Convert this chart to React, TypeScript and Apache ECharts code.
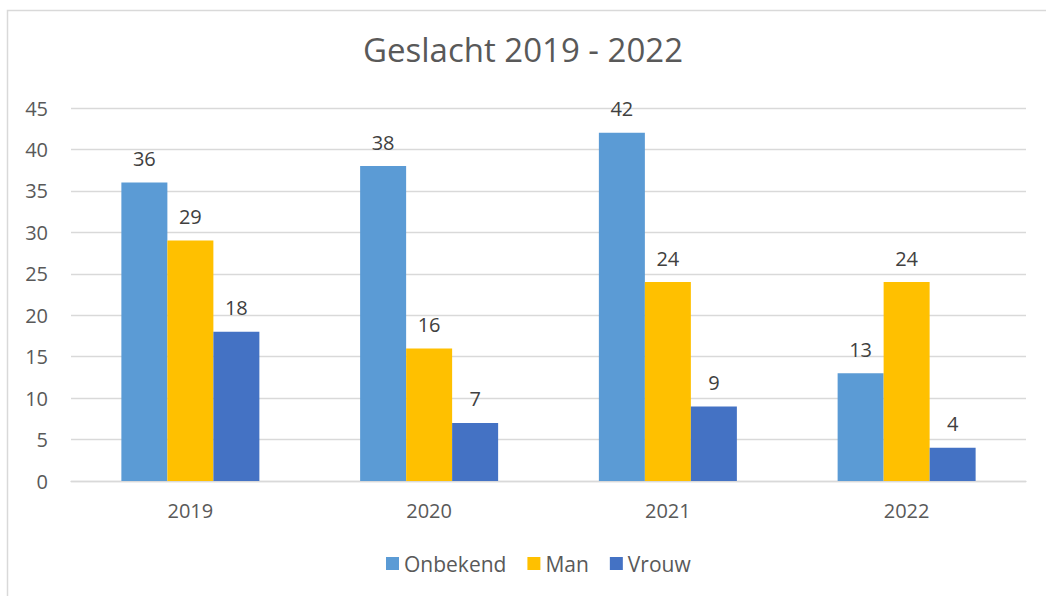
import React, { useEffect, useRef } from "react";
import * as echarts from "echarts";

const categories = ["2019", "2020", "2021", "2022"];
const onbekend = [36, 38, 42, 13];
const man = [29, 16, 24, 24];
const vrouw = [18, 7, 9, 4];
const seriesNames = ["Onbekend", "Man", "Vrouw"];
const colors = ["#5B9BD5", "#FFC000", "#4472C4"];
const FONT = "'Open Sans', sans-serif";

export default function App() {
  const ref = useRef<HTMLDivElement>(null);
  useEffect(() => {
    if (!ref.current) return;
    const chart = echarts.init(ref.current, null, { renderer: "svg" });
    const data = [onbekend, man, vrouw];
    chart.setOption({
      animation: false,
      backgroundColor: "#ffffff",
      textStyle: { fontFamily: FONT },
      graphic: [
        {
          type: "rect",
          shape: { x: 7.5, y: 10.5, width: 1100, height: 700 },
          style: { fill: "none", stroke: "#D9D9D9", lineWidth: 1.5 },
          silent: true,
        },
      ],
      title: {
        text: "Geslacht 2019 - 2022",
        left: "center",
        top: 28,
        textStyle: { fontFamily: FONT, fontSize: 33, fontWeight: "normal", color: "#595959" },
      },
      legend: {
        bottom: 17,
        left: 381,
        itemWidth: 13,
        itemHeight: 13,
        itemGap: 21,
        icon: "rect",
        textStyle: { fontFamily: FONT, fontSize: 21, color: "#595959" },
        data: seriesNames,
      },
      grid: { left: 71, right: 20, top: 108, bottom: 115, containLabel: false },
      xAxis: {
        type: "category",
        data: categories,
        axisLine: { lineStyle: { color: "#D9D9D9", width: 1.3 } },
        axisTick: { show: false },
        axisLabel: { fontFamily: FONT, fontSize: 20, color: "#595959", margin: 19 },
      },
      yAxis: {
        type: "value",
        min: 0,
        max: 45,
        interval: 5,
        axisLine: { show: false },
        axisTick: { show: false },
        splitLine: { lineStyle: { color: "#D9D9D9", width: 1.3 } },
        axisLabel: { fontFamily: FONT, fontSize: 20, color: "#595959", margin: 23 },
      },
      series: seriesNames.map((name, i) => ({
        name,
        type: "bar",
        data: data[i],
        barWidth: 46,
        barGap: "0%",
        itemStyle: { color: colors[i] },
        label: {
          show: true,
          position: "top",
          distance: 14,
          fontFamily: FONT,
          fontSize: 20,
          color: "#404040",
        },
      })),
    });
    return () => chart.dispose();
  }, []);
  return (
    <div
      ref={ref}
      style={{ position: "fixed", left: 0, top: 0, width: 1046, height: 596 }}
    />
  );
}
